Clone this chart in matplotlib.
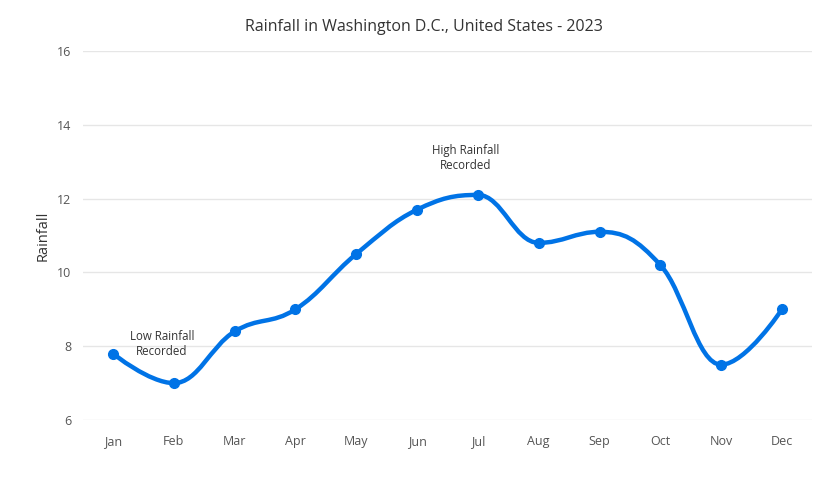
import matplotlib
matplotlib.use("Agg")
import matplotlib.pyplot as plt
from matplotlib.path import Path
from matplotlib.patches import PathPatch
import numpy as np

months = ["Jan", "Feb", "Mar", "Apr", "May", "Jun", "Jul", "Aug", "Sep", "Oct", "Nov", "Dec"]
rainfall = [7.8, 7.0, 8.4, 9.0, 10.5, 11.7, 12.1, 10.8, 11.1, 10.2, 7.5, 9.0]
y_ticks = [6, 8, 10, 12, 14, 16]
title = "Rainfall in Washington D.C., United States - 2023"
y_label = "Rainfall"
annotations = [("Low Rainfall\nRecorded", 1), ("High Rainfall\nRecorded", 6)]

plt.rcParams['font.family'] = ['Open Sans', 'DejaVu Sans']

fig = plt.figure(figsize=(8.30, 4.79), dpi=100)
W, H = 830, 479
ax = fig.add_axes([82.6 / W, 1 - 420 / H, (812.4 - 82.6) / W, (420 - 51) / H])
ax.set_xlim(-0.5, len(months) - 0.5)
ax.set_ylim(6, 16)

# Highcharts-like spline
xs = np.arange(len(rainfall), dtype=float)
ys = np.array(rainfall, dtype=float)
sx, sy = 60.8, -36.9
px = xs * sx
py = ys * sy
n = len(px)
leftC = [None] * n
rightC = [None] * n
smoothing = 1.5
denom = smoothing + 1
for i in range(n):
    if i == 0 or i == n - 1:
        leftC[i] = (px[i], py[i])
        rightC[i] = (px[i], py[i])
        continue
    lx = (smoothing * px[i] + px[i - 1]) / denom
    ly = (smoothing * py[i] + py[i - 1]) / denom
    rx = (smoothing * px[i] + px[i + 1]) / denom
    ry = (smoothing * py[i] + py[i + 1]) / denom
    if rx != lx:
        corr = ((ry - ly) * (rx - px[i])) / (rx - lx) + py[i] - ry
        ly += corr
        ry += corr
    lastY, nextY, plotY = py[i - 1], py[i + 1], py[i]
    if ly > lastY and ly > plotY:
        ly = max(lastY, plotY)
        ry = 2 * plotY - ly
    elif ly < lastY and ly < plotY:
        ly = min(lastY, plotY)
        ry = 2 * plotY - ly
    if ry > nextY and ry > plotY:
        ry = max(nextY, plotY)
        ly = 2 * plotY - ry
    elif ry < nextY and ry < plotY:
        ry = min(nextY, plotY)
        ly = 2 * plotY - ry
    leftC[i] = (lx, ly)
    rightC[i] = (rx, ry)

verts = [(px[0] / sx, py[0] / sy)]
codes = [Path.MOVETO]
for i in range(1, n):
    c1 = rightC[i - 1]
    c2 = leftC[i]
    verts += [(c1[0] / sx, c1[1] / sy), (c2[0] / sx, c2[1] / sy), (px[i] / sx, py[i] / sy)]
    codes += [Path.CURVE4] * 3
color = "#0073e6"
ax.add_patch(PathPatch(Path(verts, codes), facecolor="none", edgecolor=color,
                       lw=3.2, capstyle="round", joinstyle="round", zorder=3))
ax.plot(xs, ys, "o", color=color, ms=7, zorder=4)

ax.set_yticks(y_ticks)
ax.set_xticks(xs)
ax.set_xticklabels(months)
ax.grid(axis="y", color="#e6e6e6", lw=1)
ax.set_axisbelow(True)
for s in ax.spines.values():
    s.set_visible(False)
ax.tick_params(axis="both", length=0, labelsize=9, labelcolor="#555555")
ax.tick_params(axis="x", pad=11)
ax.tick_params(axis="y", pad=8)

ax.set_ylabel(y_label, fontsize=10.5, color="#333333")
ax.yaxis.set_label_coords(-31.6 / (812.4 - 82.6), 0.5)

fig.text(424 / W, 1 - 27 / H, title, ha="center", va="center", fontsize=11.5, color="#333333")

ann_pos = {1: (162, 344), 6: (466, 158)}
for text, idx in annotations:
    xpix, ypix = ann_pos[idx]
    fig.text(xpix / W, 1 - ypix / H, text, ha="center", va="center", fontsize=8.3,
             color="#333333", linespacing=1.25)

fig.savefig("out.png", dpi=100, facecolor="white")
